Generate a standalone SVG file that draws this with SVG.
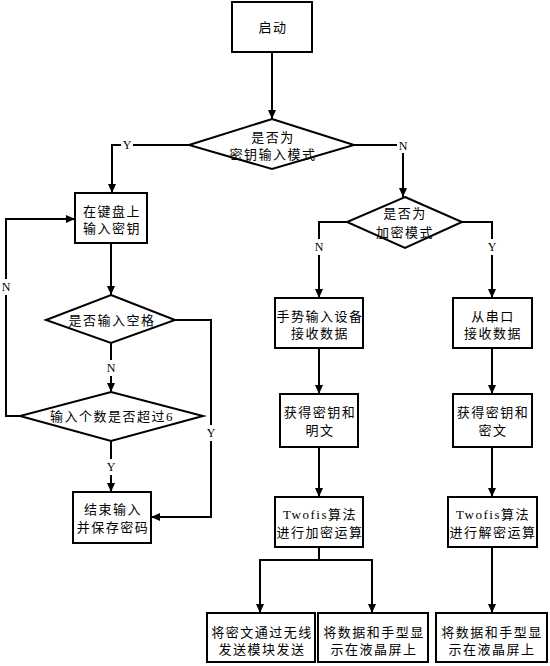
<svg xmlns="http://www.w3.org/2000/svg" width="550" height="666" viewBox="0 0 550 666">
<defs>
<marker id="arr" markerUnits="userSpaceOnUse" markerWidth="10" markerHeight="10" viewBox="0 0 10 10" refX="9" refY="5" orient="auto">
<path d="M0,1 L9,5 L0,9 Z" fill="#000"/>
</marker>
<style>
.n{fill:#fff;stroke:#000;stroke-width:2}
.t{font-family:"Liberation Serif","Noto Sans CJK SC",serif;font-size:13px;letter-spacing:1.5px;text-anchor:middle;dominant-baseline:central;fill:#000}
.c{fill:none;stroke:#000;stroke-width:2;marker-end:url(#arr)}
.l{fill:none;stroke:#000;stroke-width:2}
.lb{font-family:"Liberation Serif",serif;font-size:12px;text-anchor:middle;dominant-baseline:central;fill:#000}
.bg{fill:#fff}
</style>
</defs>
<rect width="550" height="666" fill="#fff"/>
<g id="connectors">
<path class="c" d="M272,52 V119"/>
<path class="c" d="M189,145 H112 V193"/>
<path class="c" d="M354,145 H403 V197"/>
<path class="c" d="M111,243 V295"/>
<path class="c" d="M111,343 V392"/>
<path class="c" d="M111,441 V492"/>
<path class="c" d="M175,320 H211 V517 H151"/>
<path class="c" d="M20,416 H6 V219 H75"/>
<path class="c" d="M347,222 H319 V298"/>
<path class="c" d="M462,222 H492 V298"/>
<path class="c" d="M319,348 V394"/>
<path class="c" d="M492,348 V394"/>
<path class="c" d="M319,447 V497"/>
<path class="c" d="M492,447 V497"/>
<path class="l" d="M319,547 V560"/>
<path class="c" d="M260,560 V613"/>
<path class="c" d="M372,560 V613"/>
<path class="l" d="M259,560 H373"/>
<path class="c" d="M492,547 V613"/>
<rect class="bg" x="121" y="138" width="12" height="14"/>
<text class="lb" x="127" y="145">Y</text>
<rect class="bg" x="397" y="139" width="12" height="14"/>
<text class="lb" x="403" y="146">N</text>
<rect class="bg" x="105" y="360" width="12" height="16"/>
<text class="lb" x="111" y="368">N</text>
<rect class="bg" x="105" y="459" width="12" height="16"/>
<text class="lb" x="111" y="467">Y</text>
<rect class="bg" x="205" y="425" width="12" height="16"/>
<text class="lb" x="211" y="433">Y</text>
<rect class="bg" x="0" y="279" width="12" height="16"/>
<text class="lb" x="6" y="287">N</text>
<rect class="bg" x="313" y="239" width="12" height="16"/>
<text class="lb" x="319" y="247">N</text>
<rect class="bg" x="486" y="239" width="12" height="16"/>
<text class="lb" x="492" y="247">Y</text>
</g>
<g id="start">
<rect class="n" x="232" y="2" width="80" height="50"/>
<text class="t" x="273" y="27">启动</text>
</g>
<g id="mode-decision">
<polygon class="n" points="272,119 354,145 272,169 189,145"/>
<text class="t" x="273" y="137">是否为</text>
<text class="t" x="273" y="154">密钥输入模式</text>
</g>
<g id="keyboard-input">
<rect class="n" x="75" y="193" width="72" height="50"/>
<text class="t" x="112" y="211">在键盘上</text>
<text class="t" x="112" y="228">输入密钥</text>
</g>
<g id="space-decision">
<polygon class="n" points="111,295 175,320 111,343 46,320"/>
<text class="t" x="112" y="320">是否输入空格</text>
</g>
<g id="count-decision">
<polygon class="n" points="111,392 203,416 111,441 20,416"/>
<text class="t" x="112" y="416">输入个数是否超过6</text>
</g>
<g id="end-input">
<rect class="n" x="73" y="492" width="78" height="51"/>
<text class="t" x="113" y="509">结束输入</text>
<text class="t" x="113" y="527">并保存密码</text>
</g>
<g id="encrypt-decision">
<polygon class="n" points="405,197 462,222 405,248 347,222"/>
<text class="t" x="405" y="213">是否为</text>
<text class="t" x="405" y="232">加密模式</text>
</g>
<g id="gesture-input">
<rect class="n" x="275" y="298" width="88" height="50"/>
<text class="t" x="320" y="316">手势输入设备</text>
<text class="t" x="320" y="333">接收数据</text>
</g>
<g id="serial-input">
<rect class="n" x="453" y="298" width="79" height="50"/>
<text class="t" x="493" y="316">从串口</text>
<text class="t" x="493" y="333">接收数据</text>
</g>
<g id="get-plain">
<rect class="n" x="280" y="394" width="78" height="53"/>
<text class="t" x="320" y="412">获得密钥和</text>
<text class="t" x="320" y="430">明文</text>
</g>
<g id="get-cipher">
<rect class="n" x="453" y="394" width="79" height="53"/>
<text class="t" x="493" y="412">获得密钥和</text>
<text class="t" x="493" y="430">密文</text>
</g>
<g id="encrypt">
<rect class="n" x="275" y="497" width="88" height="50"/>
<text class="t" x="320" y="514">Twofis算法</text>
<text class="t" x="320" y="532">进行加密运算</text>
</g>
<g id="decrypt">
<rect class="n" x="448" y="497" width="89" height="50"/>
<text class="t" x="493" y="514">Twofis算法</text>
<text class="t" x="493" y="532">进行解密运算</text>
</g>
<g id="send-wireless">
<rect class="n" x="207" y="613" width="108" height="49"/>
<text class="t" x="262" y="632">将密文通过无线</text>
<text class="t" x="262" y="649">发送模块发送</text>
</g>
<g id="display-enc">
<rect class="n" x="318" y="613" width="110" height="49"/>
<text class="t" x="374" y="632">将数据和手型显</text>
<text class="t" x="374" y="649">示在液晶屏上</text>
</g>
<g id="display-dec">
<rect class="n" x="436" y="613" width="111" height="49"/>
<text class="t" x="492" y="632">将数据和手型显</text>
<text class="t" x="492" y="649">示在液晶屏上</text>
</g>
</svg>
